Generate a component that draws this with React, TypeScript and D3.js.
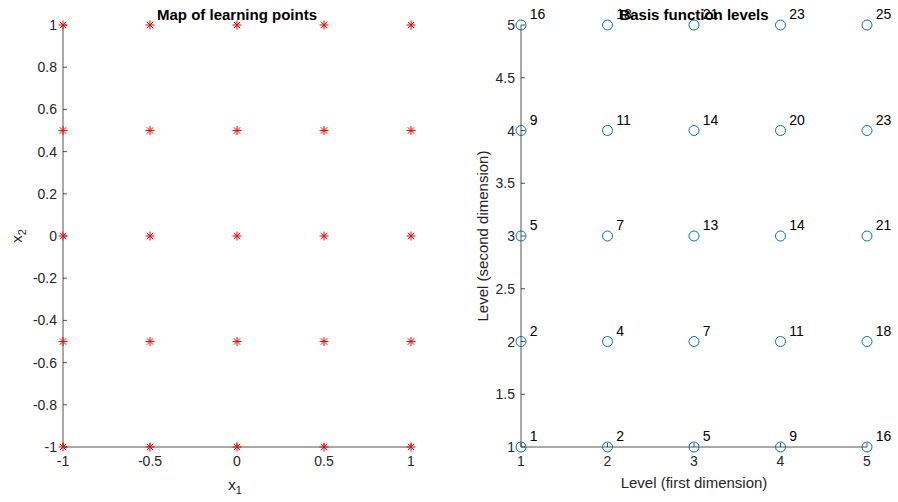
import React from "react";
import * as d3 from "d3";

const learnX = [-1, -0.5, 0, 0.5, 1];
const learnY = [-1, -0.5, 0, 0.5, 1];
const leftXTicks = [-1, -0.5, 0, 0.5, 1];
const leftYTicks = [-1, -0.8, -0.6, -0.4, -0.2, 0, 0.2, 0.4, 0.6, 0.8, 1];

const levels1 = [1, 2, 3, 4, 5];
const levels2 = [1, 2, 3, 4, 5];
// counts[row = level2 - 1][col = level1 - 1]
const counts = [
  [1, 2, 5, 9, 16],
  [2, 4, 7, 11, 18],
  [5, 7, 13, 14, 21],
  [9, 11, 14, 20, 23],
  [16, 18, 21, 23, 25],
];
const rightXTicks = [1, 2, 3, 4, 5];
const rightYTicks = [1, 1.5, 2, 2.5, 3, 3.5, 4, 4.5, 5];

const FONT = "'Liberation Sans', Arial, Helvetica, sans-serif";
const AX = "#262626";

const fmt = (v: number) => (Math.abs(v) < 1e-9 ? "0" : String(+v.toFixed(2)));

export default function App() {
  const W = 898, H = 502;
  const top = 25, bottom = 447;
  const lx = d3.scaleLinear().domain([-1, 1]).range([63, 411]);
  const ly = d3.scaleLinear().domain([-1, 1]).range([bottom, top]);
  const rx = d3.scaleLinear().domain([1, 5]).range([521, 867]);
  const ry = d3.scaleLinear().domain([1, 5]).range([bottom, top]);

  const star = (cx: number, cy: number, r = 4.5) => {
    const d = r * 0.7071;
    return `M${cx - r},${cy}H${cx + r}M${cx},${cy - r}V${cy + r}M${cx - d},${cy - d}L${cx + d},${cy + d}M${cx - d},${cy + d}L${cx + d},${cy - d}`;
  };

  const learnPts: [number, number][] = [];
  learnX.forEach((x) => learnY.forEach((y) => learnPts.push([x, y])));

  const levelPts: { a: number; b: number; n: number }[] = [];
  levels2.forEach((b, i) => levels1.forEach((a, j) => levelPts.push({ a, b, n: counts[i][j] })));

  const tickLen = 4;
  const TF = 14;

  return (
    <svg width={W} height={H} style={{ display: "block", position: "absolute", left: 0, top: 0, background: "#fff" }} fontFamily={FONT}>
      <rect width={W} height={H} fill="#fff" />
      {/* LEFT AXES */}
      <g>
        {leftXTicks.map((t) => (
          <g key={"lxt" + t}>
            <line x1={lx(t)} x2={lx(t)} y1={bottom} y2={bottom - tickLen} stroke={AX} strokeWidth={0.8} />
            <text x={lx(t)} y={bottom + 19} textAnchor="middle" fontSize={TF} fill={AX}>{fmt(t)}</text>
          </g>
        ))}
        {leftYTicks.map((t) => (
          <g key={"lyt" + t}>
            <line x1={63} x2={63 + tickLen} y1={ly(t)} y2={ly(t)} stroke={AX} strokeWidth={0.8} />
            <text x={57} y={ly(t) + 5} textAnchor="end" fontSize={TF} fill={AX}>{fmt(t)}</text>
          </g>
        ))}
        <line x1={63} x2={63} y1={top} y2={bottom} stroke={AX} strokeWidth={0.8} />
        <line x1={63} x2={411} y1={bottom} y2={bottom} stroke={AX} strokeWidth={0.8} />
        {learnPts.map(([x, y], i) => (
          <path key={"s" + i} d={star(lx(x), ly(y))} stroke="#ff0000" strokeWidth={1} fill="none" />
        ))}
        <text x={237} y={20} textAnchor="middle" fontSize={15} fontWeight="bold" fill="#000">Map of learning points</text>
        <text x={235} y={490} textAnchor="middle" fontSize={15} fill={AX}>
          x<tspan fontSize={11} dy={4}>1</tspan>
        </text>
        <text transform={`translate(22,236) rotate(-90)`} textAnchor="middle" fontSize={15} fill={AX}>
          x<tspan fontSize={11} dy={4}>2</tspan>
        </text>
      </g>
      {/* RIGHT AXES */}
      <g>
        {rightXTicks.map((t) => (
          <g key={"rxt" + t}>
            <line x1={rx(t)} x2={rx(t)} y1={bottom} y2={bottom - tickLen} stroke={AX} strokeWidth={0.8} />
            <text x={rx(t)} y={bottom + 19} textAnchor="middle" fontSize={TF} fill={AX}>{fmt(t)}</text>
          </g>
        ))}
        {rightYTicks.map((t) => (
          <g key={"ryt" + t}>
            <line x1={521} x2={521 + tickLen} y1={ry(t)} y2={ry(t)} stroke={AX} strokeWidth={0.8} />
            <text x={515} y={ry(t) + 5} textAnchor="end" fontSize={TF} fill={AX}>{fmt(t)}</text>
          </g>
        ))}
        <line x1={521} x2={521} y1={top} y2={bottom} stroke={AX} strokeWidth={0.8} />
        <line x1={521} x2={867} y1={bottom} y2={bottom} stroke={AX} strokeWidth={0.8} />
        {levelPts.map((p, i) => (
          <g key={"c" + i}>
            <circle cx={rx(p.a)} cy={ry(p.b)} r={5} fill="none" stroke="#0072BD" strokeWidth={1} />
            <text x={rx(p.a + 0.1)} y={ry(p.b + 0.1) + 5} fontSize={TF} fill="#000">{p.n}</text>
          </g>
        ))}
        <text x={694} y={20} textAnchor="middle" fontSize={15} fontWeight="bold" fill="#000">Basis function levels</text>
        <text x={694} y={488} textAnchor="middle" fontSize={15} fill={AX}>Level (first dimension)</text>
        <text transform={`translate(488,236) rotate(-90)`} textAnchor="middle" fontSize={15} fill={AX}>Level (second dimension)</text>
      </g>
    </svg>
  );
}
